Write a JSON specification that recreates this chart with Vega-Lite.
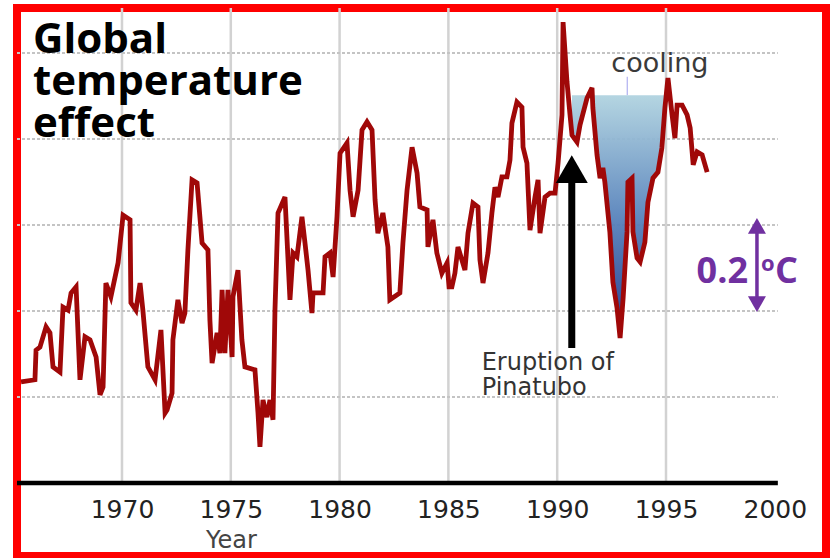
{
  "$schema": "https://vega.github.io/schema/vega-lite/v6.json",
  "width": 809,
  "height": 548,
  "autosize": {"type": "none"},
  "padding": {"left": 17, "top": 8, "right": 5, "bottom": 2},
  "background": "white",
  "config": {
    "view": {"stroke": "#ff0000", "strokeWidth": 8},
    "font": "DejaVu Sans"
  },
  "datasets": {
    "temp": [
      {"year":1965.36,"value":-0.365},{"year":1966.00,"value":-0.360},{"year":1966.05,"value":-0.291},{"year":1966.23,"value":-0.284},
      {"year":1966.51,"value":-0.237},{"year":1966.69,"value":-0.251},{"year":1966.83,"value":-0.330},{"year":1967.15,"value":-0.342},
      {"year":1967.29,"value":-0.191},{"year":1967.52,"value":-0.198},{"year":1967.66,"value":-0.158},{"year":1967.89,"value":-0.144},
      {"year":1968.07,"value":-0.360},{"year":1968.30,"value":-0.260},{"year":1968.53,"value":-0.267},{"year":1968.81,"value":-0.307},
      {"year":1968.99,"value":-0.395},{"year":1969.13,"value":-0.377},{"year":1969.26,"value":-0.135},{"year":1969.49,"value":-0.167},
      {"year":1969.82,"value":-0.088},{"year":1970.05,"value":0.023},{"year":1970.37,"value":0.012},{"year":1970.41,"value":-0.181},
      {"year":1970.64,"value":-0.198},{"year":1970.83,"value":-0.135},{"year":1970.96,"value":-0.198},{"year":1971.19,"value":-0.330},
      {"year":1971.52,"value":-0.360},{"year":1971.79,"value":-0.244},{"year":1971.98,"value":-0.437},{"year":1972.07,"value":-0.430},
      {"year":1972.30,"value":-0.391},{"year":1972.34,"value":-0.267},{"year":1972.57,"value":-0.174},{"year":1972.76,"value":-0.228},
      {"year":1972.89,"value":-0.205},{"year":1973.03,"value":-0.058},{"year":1973.22,"value":0.105},{"year":1973.45,"value":0.098},
      {"year":1973.68,"value":-0.042},{"year":1973.95,"value":-0.058},{"year":1974.04,"value":-0.221},{"year":1974.14,"value":-0.321},
      {"year":1974.37,"value":-0.251},{"year":1974.50,"value":-0.298},{"year":1974.60,"value":-0.151},{"year":1974.73,"value":-0.298},
      {"year":1974.87,"value":-0.151},{"year":1975.06,"value":-0.307},{"year":1975.10,"value":-0.167},{"year":1975.33,"value":-0.105},
      {"year":1975.51,"value":-0.267},{"year":1975.65,"value":-0.330},{"year":1976.11,"value":-0.337},{"year":1976.25,"value":-0.437},
      {"year":1976.34,"value":-0.516},{"year":1976.48,"value":-0.407},{"year":1976.66,"value":-0.447},{"year":1976.80,"value":-0.407},
      {"year":1976.94,"value":-0.453},{"year":1977.03,"value":-0.198},{"year":1977.17,"value":0.028},{"year":1977.49,"value":0.065},
      {"year":1977.72,"value":-0.174},{"year":1977.86,"value":-0.065},{"year":1978.04,"value":-0.074},{"year":1978.27,"value":0.019},
      {"year":1978.41,"value":-0.042},{"year":1978.55,"value":-0.105},{"year":1978.73,"value":-0.205},{"year":1978.78,"value":-0.158},
      {"year":1979.24,"value":-0.158},{"year":1979.33,"value":-0.074},{"year":1979.56,"value":-0.065},{"year":1979.70,"value":-0.121},
      {"year":1979.88,"value":0.019},{"year":1980.02,"value":0.167},{"year":1980.34,"value":0.191},{"year":1980.48,"value":0.081},
      {"year":1980.62,"value":0.019},{"year":1980.85,"value":0.081},{"year":1981.03,"value":0.221},{"year":1981.26,"value":0.240},
      {"year":1981.49,"value":0.221},{"year":1981.63,"value":0.058},{"year":1981.76,"value":-0.019},{"year":1981.99,"value":0.028},
      {"year":1982.22,"value":-0.051},{"year":1982.31,"value":-0.174},{"year":1982.77,"value":-0.158},{"year":1982.91,"value":-0.042},
      {"year":1983.10,"value":0.081},{"year":1983.33,"value":0.181},{"year":1983.56,"value":0.121},{"year":1983.69,"value":0.042},
      {"year":1984.02,"value":0.035},{"year":1984.06,"value":-0.051},{"year":1984.29,"value":0.012},{"year":1984.47,"value":-0.065},
      {"year":1984.70,"value":-0.112},{"year":1984.94,"value":-0.088},{"year":1985.03,"value":-0.144},{"year":1985.16,"value":-0.144},
      {"year":1985.30,"value":-0.112},{"year":1985.44,"value":-0.051},{"year":1985.76,"value":-0.105},{"year":1985.90,"value":-0.019},
      {"year":1986.13,"value":0.051},{"year":1986.36,"value":0.042},{"year":1986.45,"value":-0.081},{"year":1986.59,"value":-0.135},
      {"year":1986.82,"value":-0.065},{"year":1987.00,"value":0.028},{"year":1987.14,"value":0.088},{"year":1987.28,"value":0.065},
      {"year":1987.46,"value":0.112},{"year":1987.69,"value":0.112},{"year":1987.83,"value":0.151},{"year":1987.92,"value":0.237},
      {"year":1988.15,"value":0.286},{"year":1988.38,"value":0.274},{"year":1988.43,"value":0.181},{"year":1988.61,"value":0.144},
      {"year":1988.75,"value":-0.012},{"year":1988.98,"value":0.065},{"year":1989.12,"value":0.105},{"year":1989.21,"value":-0.019},
      {"year":1989.44,"value":0.065},{"year":1989.67,"value":0.074},{"year":1989.90,"value":0.074},{"year":1990.04,"value":0.144},
      {"year":1990.22,"value":0.256},{"year":1990.27,"value":0.472},{"year":1990.45,"value":0.333},{"year":1990.59,"value":0.256},
      {"year":1990.68,"value":0.209},{"year":1990.91,"value":0.193},{"year":1991.05,"value":0.233},{"year":1991.37,"value":0.295},
      {"year":1991.60,"value":0.319},{"year":1991.64,"value":0.272},{"year":1991.83,"value":0.163},{"year":1991.97,"value":0.109},
      {"year":1992.10,"value":0.133},{"year":1992.19,"value":0.100},{"year":1992.42,"value":-0.016},{"year":1992.56,"value":-0.133},
      {"year":1992.75,"value":-0.193},{"year":1992.89,"value":-0.263},{"year":1993.03,"value":-0.170},{"year":1993.21,"value":-0.016},
      {"year":1993.25,"value":0.100},{"year":1993.44,"value":0.109},{"year":1993.48,"value":-0.016},{"year":1993.67,"value":-0.077},
      {"year":1993.81,"value":-0.086},{"year":1994.03,"value":-0.040},{"year":1994.17,"value":0.053},{"year":1994.40,"value":0.109},
      {"year":1994.63,"value":0.123},{"year":1994.81,"value":0.179},{"year":1994.95,"value":0.272},{"year":1995.09,"value":0.342},
      {"year":1995.28,"value":0.256},{"year":1995.41,"value":0.202},{"year":1995.51,"value":0.279},{"year":1995.74,"value":0.279},
      {"year":1995.97,"value":0.256},{"year":1996.11,"value":0.226},{"year":1996.25,"value":0.140},{"year":1996.43,"value":0.170},
      {"year":1996.66,"value":0.163},{"year":1996.89,"value":0.123}
    ],
    "hgrid": [{"value":-0.4},{"value":-0.2},{"value":0},{"value":0.2},{"value":0.4}],
    "vgrid": [{"year":1970},{"year":1975},{"year":1980},{"year":1985},{"year":1990},{"year":1995}],
    "axisline": [{"value":-0.6}],
    "arrows": [
      {"part":"coolingTick","year":1993.22,"value":0.302,"value2":0.345},
      {"part":"eruptionShaft","year":1990.67,"value":-0.286,"value2":0.098},
      {"part":"eruptionHead","year":1990.67,"value":0.130},
      {"part":"scaleShaft","year":1999.18,"value":-0.184,"value2":-0.002},
      {"part":"scaleHeadUp","year":1999.18,"value":-0.002},
      {"part":"scaleHeadDown","year":1999.18,"value":-0.184}
    ],
    "notes": [
      {"key":"title","year":1965.91,"value":0.4,"label":"Global\ntemperature\neffect"},
      {"key":"cooling","year":1994.72,"value":0.356,"label":"cooling"},
      {"key":"eruption","year":1986.53,"value":-0.337,"label":"Eruption of\nPinatubo"},
      {"key":"scaleNum","year":1998.77,"value":-0.135,"label":"0.2"},
      {"key":"scaleO","year":1999.37,"value":-0.107,"label":"o"},
      {"key":"scaleC","year":2000.01,"value":-0.135,"label":"C"}
    ]
  },
  "layer": [
    {
      "data": {"name": "vgrid"},
      "mark": {"type": "rule", "color": "#d2d2d2", "strokeWidth": 2.5},
      "encoding": {
        "x": {"field": "year", "type": "quantitative", "scale": {"domain": [1965.175, 2002.353], "nice": false, "zero": false}},
        "y": {"datum": -0.6, "type": "quantitative", "scale": {"domain": [-0.7698, 0.5047], "nice": false, "zero": false}, "axis": null},
        "y2": {"datum": 0.5047}
      }
    },
    {
      "data": {"name": "hgrid"},
      "mark": {"type": "rule", "color": "#c4c4c4", "strokeWidth": 2, "strokeDash": [3, 2]},
      "encoding": {
        "x": {"datum": 1965.175, "type": "quantitative"},
        "x2": {"datum": 2000.14},
        "y": {"field": "value", "type": "quantitative", "axis": null}
      }
    },
    {
      "data": {"name": "axisline"},
      "mark": {"type": "rule", "color": "#000000", "strokeWidth": 4.5},
      "encoding": {
        "x": {"datum": 1965.175, "type": "quantitative"},
        "x2": {"datum": 2000.14},
        "y": {"field": "value", "type": "quantitative", "axis": null}
      }
    },
    {
      "data": {"name": "arrows"},
      "transform": [{"filter": "datum.part == 'coolingTick'"}],
      "mark": {"type": "rule", "color": "#b0b0f0", "strokeWidth": 1.2},
      "encoding": {
        "x": {"field": "year", "type": "quantitative"},
        "y": {"field": "value", "type": "quantitative", "axis": null},
        "y2": {"field": "value2"}
      }
    },
    {
      "data": {"name": "temp"},
      "transform": [{"filter": "datum.year >= 1990.68 && datum.year <= 1994.95"}],
      "mark": {
        "type": "area",
        "opacity": 0.95,
        "color": {
          "gradient": "linear",
          "x1": 0, "y1": 0, "x2": 0, "y2": 1,
          "stops": [
            {"offset": 0, "color": "#b6d8e2"},
            {"offset": 0.5, "color": "#5b86bd"},
            {"offset": 1, "color": "#1c3488"}
          ]
        }
      },
      "encoding": {
        "x": {"field": "year", "type": "quantitative"},
        "y": {"field": "value", "type": "quantitative", "axis": null},
        "y2": {"datum": 0.302}
      }
    },
    {
      "data": {"name": "temp"},
      "mark": {"type": "line", "color": "#a00808", "strokeWidth": 4.8, "strokeJoin": "miter"},
      "encoding": {
        "x": {
          "field": "year",
          "type": "quantitative",
          "axis": {
            "title": "Year",
            "values": [1965, 1970, 1975, 1980, 1985, 1990, 1995, 2000],
            "format": "d",
            "domain": false,
            "ticks": false,
            "tickSize": 0,
            "grid": false,
            "offset": -74,
            "labelPadding": 35,
            "labelBaseline": "alphabetic",
            "labelFontSize": 25,
            "labelColor": "#222222",
            "labelFont": "DejaVu Sans",
            "labelOverlap": false,
            "labelFlush": false,
            "titleFont": "DejaVu Sans",
            "titleFontSize": 24,
            "titleFontWeight": "normal",
            "titleColor": "#444444",
            "titleX": 214,
            "titleY": 65,
            "titleAlign": "center",
            "titleBaseline": "alphabetic"
          }
        },
        "y": {"field": "value", "type": "quantitative", "axis": null}
      }
    },
    {
      "data": {"name": "arrows"},
      "transform": [{"filter": "datum.part == 'eruptionShaft'"}],
      "mark": {"type": "rule", "color": "#000000", "strokeWidth": 7},
      "encoding": {
        "x": {"field": "year", "type": "quantitative"},
        "y": {"field": "value", "type": "quantitative", "axis": null},
        "y2": {"field": "value2"}
      }
    },
    {
      "data": {"name": "arrows"},
      "transform": [{"filter": "datum.part == 'eruptionHead'"}],
      "mark": {"type": "point", "shape": "triangle-up", "filled": true, "color": "#000000", "size": 1024, "opacity": 1},
      "encoding": {
        "x": {"field": "year", "type": "quantitative"},
        "y": {"field": "value", "type": "quantitative", "axis": null}
      }
    },
    {
      "data": {"name": "arrows"},
      "transform": [{"filter": "datum.part == 'scaleShaft'"}],
      "mark": {"type": "rule", "color": "#7030a0", "strokeWidth": 3.5},
      "encoding": {
        "x": {"field": "year", "type": "quantitative"},
        "y": {"field": "value", "type": "quantitative", "axis": null},
        "y2": {"field": "value2"}
      }
    },
    {
      "data": {"name": "arrows"},
      "transform": [{"filter": "datum.part == 'scaleHeadUp'"}],
      "mark": {"type": "point", "shape": "triangle-up", "filled": true, "color": "#7030a0", "size": 324, "opacity": 1},
      "encoding": {
        "x": {"field": "year", "type": "quantitative"},
        "y": {"field": "value", "type": "quantitative", "axis": null}
      }
    },
    {
      "data": {"name": "arrows"},
      "transform": [{"filter": "datum.part == 'scaleHeadDown'"}],
      "mark": {"type": "point", "shape": "triangle-down", "filled": true, "color": "#7030a0", "size": 324, "opacity": 1},
      "encoding": {
        "x": {"field": "year", "type": "quantitative"},
        "y": {"field": "value", "type": "quantitative", "axis": null}
      }
    },
    {
      "data": {"name": "notes"},
      "transform": [{"filter": "datum.key == 'title'"}],
      "mark": {"type": "text", "align": "left", "baseline": "alphabetic", "font": "Open Sans", "fontWeight": "bold", "fontSize": 42, "lineHeight": 42, "lineBreak": "\n", "color": "#000000"},
      "encoding": {
        "x": {"field": "year", "type": "quantitative"},
        "y": {"field": "value", "type": "quantitative", "axis": null},
        "text": {"field": "label"}
      }
    },
    {
      "data": {"name": "notes"},
      "transform": [{"filter": "datum.key == 'cooling'"}],
      "mark": {"type": "text", "align": "center", "baseline": "alphabetic", "font": "DejaVu Sans", "fontSize": 27, "color": "#3a3a3a"},
      "encoding": {
        "x": {"field": "year", "type": "quantitative"},
        "y": {"field": "value", "type": "quantitative", "axis": null},
        "text": {"field": "label"}
      }
    },
    {
      "data": {"name": "notes"},
      "transform": [{"filter": "datum.key == 'eruption'"}],
      "mark": {"type": "text", "align": "left", "baseline": "alphabetic", "font": "DejaVu Sans", "fontSize": 24, "lineHeight": 25, "lineBreak": "\n", "color": "#333333"},
      "encoding": {
        "x": {"field": "year", "type": "quantitative"},
        "y": {"field": "value", "type": "quantitative", "axis": null},
        "text": {"field": "label"}
      }
    },
    {
      "data": {"name": "notes"},
      "transform": [{"filter": "datum.key == 'scaleNum'"}],
      "mark": {"type": "text", "align": "right", "baseline": "alphabetic", "font": "Open Sans", "fontWeight": "bold", "fontSize": 36, "color": "#7030a0"},
      "encoding": {
        "x": {"field": "year", "type": "quantitative"},
        "y": {"field": "value", "type": "quantitative", "axis": null},
        "text": {"field": "label"}
      }
    },
    {
      "data": {"name": "notes"},
      "transform": [{"filter": "datum.key == 'scaleO'"}],
      "mark": {"type": "text", "align": "left", "baseline": "alphabetic", "font": "Open Sans", "fontWeight": "bold", "fontSize": 22, "color": "#7030a0"},
      "encoding": {
        "x": {"field": "year", "type": "quantitative"},
        "y": {"field": "value", "type": "quantitative", "axis": null},
        "text": {"field": "label"}
      }
    },
    {
      "data": {"name": "notes"},
      "transform": [{"filter": "datum.key == 'scaleC'"}],
      "mark": {"type": "text", "align": "left", "baseline": "alphabetic", "font": "Open Sans", "fontWeight": "bold", "fontSize": 36, "color": "#7030a0"},
      "encoding": {
        "x": {"field": "year", "type": "quantitative"},
        "y": {"field": "value", "type": "quantitative", "axis": null},
        "text": {"field": "label"}
      }
    }
  ]
}
